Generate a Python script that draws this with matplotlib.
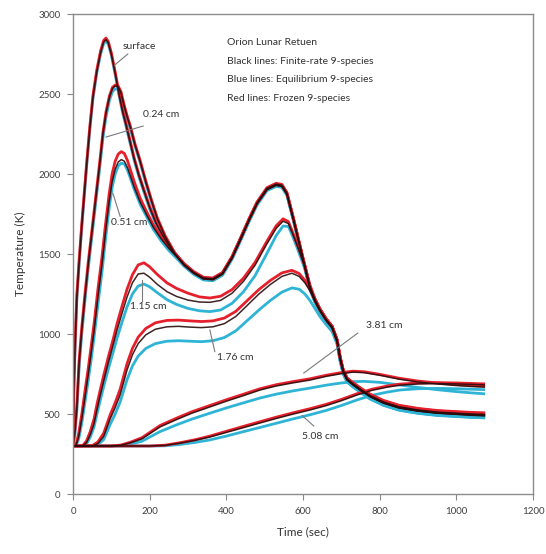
import matplotlib
matplotlib.use("Agg")
import matplotlib.pyplot as plt

plt.rcParams['font.family'] = ['Lato', 'DejaVu Sans']

# ---- data (time in s, temperature in K) ----
t_surf = [0, 2, 5, 10, 16, 23, 30, 36, 44, 52, 62, 72, 80, 86, 92, 100, 110, 120, 130, 138,
          150, 160, 172, 183, 200, 217, 240, 265,
          290, 315, 340, 365, 390, 415, 436, 460, 480, 506, 530, 545,
          558, 575, 592, 605, 618, 631, 644, 660, 676, 689, 697, 705, 715, 730, 750, 775, 810, 850, 900, 950,
          1000, 1040, 1075]
surf_black = [300, 640, 900, 1230, 1450, 1680, 1890, 2070, 2290, 2480, 2640, 2760, 2825, 2840, 2820, 2750, 2630, 2500, 2385, 2310,
              2190, 2090, 1990, 1910, 1790, 1690, 1590, 1500,
              1435, 1385, 1350, 1345, 1380, 1480, 1590, 1720, 1820, 1910, 1937, 1930, 1880, 1720, 1550, 1420, 1290, 1210, 1150, 1090,
              1044, 960, 850, 770, 720, 690, 655, 615, 575, 545, 525, 512, 505, 500, 497]
surf_red = [300, 650, 912, 1242, 1462, 1692, 1902, 2080, 2300, 2490, 2650, 2770, 2835, 2850, 2828, 2758, 2638, 2508, 2393, 2318,
            2198, 2097, 1997, 1917, 1797, 1697, 1597, 1506,
            1440, 1390, 1355, 1350, 1385, 1485, 1595, 1725, 1825, 1915, 1942, 1935, 1885, 1725, 1555, 1425, 1295, 1215, 1155, 1095,
            1049, 965, 855, 775, 725, 697, 663, 624, 585, 555, 535, 522, 515, 510, 507]
surf_blue = [300, 632, 890, 1218, 1438, 1668, 1878, 2060, 2280, 2470, 2630, 2750, 2815, 2830, 2812, 2742, 2622, 2492, 2377, 2302,
             2182, 2082, 1982, 1902, 1782, 1682, 1582, 1493,
             1429, 1379, 1344, 1339, 1374, 1474, 1584, 1714, 1814, 1904, 1931, 1924, 1874, 1714, 1544, 1414, 1284, 1204, 1144, 1084,
             1038, 952, 842, 762, 710, 678, 642, 600, 560, 530, 510, 497, 490, 485, 482]

t_024 = [0, 5, 10, 16, 23, 31, 40, 50, 60, 70, 78, 86, 95, 103, 110, 117, 125, 133, 141, 150,
         162, 175, 190, 205, 220, 240, 265,
         290, 315, 340, 365, 390, 415, 436, 460, 480, 506, 530, 545,
         558, 575, 592, 605, 618, 631, 644, 660, 676, 689, 697, 705, 715, 730, 750, 775, 810, 850, 900, 950,
         1000, 1040, 1075]
d024_black = [300, 390, 540, 820, 1030, 1231, 1440, 1650, 1860, 2070, 2250, 2380, 2480, 2535, 2550, 2548, 2510, 2430, 2360, 2290,
              2180, 2080, 1950, 1830, 1720, 1610, 1505,
              1432, 1382, 1347, 1342, 1377, 1477, 1587, 1716, 1815, 1905, 1932, 1925, 1876, 1717, 1548, 1418, 1288, 1208, 1148, 1088,
              1041, 957, 847, 767, 717, 687, 652, 612, 572, 542, 522, 509, 502, 497, 494]
d024_red = [300, 400, 555, 835, 1045, 1245, 1455, 1662, 1872, 2080, 2258, 2388, 2488, 2542, 2556, 2554, 2516, 2436, 2366, 2296,
            2186, 2086, 1956, 1836, 1726, 1616, 1510,
            1437, 1387, 1352, 1347, 1382, 1482, 1592, 1721, 1820, 1910, 1937, 1930, 1881, 1722, 1553, 1423, 1293, 1213, 1153, 1093,
            1046, 962, 852, 772, 722, 694, 660, 621, 582, 552, 532, 519, 512, 507, 504]
d024_blue = [300, 372, 520, 795, 1005, 1205, 1415, 1625, 1835, 2045, 2225, 2355, 2460, 2515, 2532, 2532, 2497, 2420, 2350, 2280,
             2172, 2072, 1942, 1822, 1712, 1602, 1498,
             1426, 1376, 1341, 1336, 1371, 1471, 1581, 1710, 1809, 1899, 1926, 1919, 1870, 1711, 1542, 1412, 1282, 1202, 1142, 1082,
             1035, 949, 839, 759, 707, 675, 639, 597, 557, 527, 507, 494, 487, 482, 479]

t_051 = [0, 8, 15, 23, 31, 40, 48, 55, 65, 76, 85, 94, 102, 110, 118, 126, 134, 142, 150, 160,
         175, 193, 210, 230, 250, 270,
         290, 315, 340, 365, 390, 415, 436, 460, 480, 506, 530, 545,
         558, 575, 592, 605, 618, 631, 644, 660, 676, 689, 697, 705, 715, 730, 750, 775, 810, 850, 900, 950,
         1000, 1040, 1075]
d051_black = [300, 305, 360, 470, 600, 750, 890, 1020, 1230, 1440, 1640, 1820, 1950, 2030, 2075, 2090, 2080, 2040, 1985, 1915,
              1825, 1740, 1665, 1595, 1535, 1485,
              1429, 1379, 1344, 1339, 1374, 1474, 1584, 1713, 1812, 1902, 1929, 1922, 1873, 1714, 1545, 1415, 1285, 1205, 1145, 1085,
              1038, 954, 844, 764, 714, 684, 649, 609, 569, 539, 519, 506, 499, 494, 491]
d051_red = [300, 310, 380, 500, 640, 790, 935, 1065, 1280, 1490, 1690, 1870, 2000, 2080, 2125, 2140, 2128, 2085, 2025, 1950,
            1850, 1760, 1680, 1608, 1545, 1492,
            1434, 1384, 1349, 1344, 1379, 1479, 1589, 1718, 1817, 1907, 1934, 1927, 1878, 1719, 1550, 1420, 1290, 1210, 1150, 1090,
            1043, 959, 849, 769, 719, 691, 657, 618, 579, 549, 529, 516, 509, 504, 501]
d051_blue = [300, 302, 345, 445, 570, 715, 850, 980, 1185, 1395, 1595, 1780, 1915, 2000, 2050, 2068, 2062, 2025, 1972, 1902,
             1812, 1728, 1652, 1582, 1522, 1474,
             1423, 1373, 1338, 1333, 1368, 1468, 1578, 1707, 1806, 1896, 1923, 1916, 1867, 1708, 1539, 1409, 1279, 1199, 1139, 1079,
             1032, 946, 836, 756, 704, 672, 636, 594, 554, 524, 504, 491, 484, 479, 476]

t_115 = [0, 25, 35, 45, 55, 62, 70, 81, 92, 104, 115, 128, 141, 155, 170, 185, 200, 220, 245, 270,
         300, 330, 357, 385, 415, 445, 475, 505, 530, 548, 562, 574, 590, 605, 618, 631, 644, 660, 676, 689,
         697, 705, 715, 730, 750, 775, 810, 850, 900, 950, 1000, 1040, 1075]
d115_black = [300, 300, 320, 370, 440, 520, 606, 715, 819, 925, 1025, 1130, 1231, 1320, 1375, 1380, 1355, 1310, 1265, 1235,
              1212, 1200, 1198, 1210, 1255, 1330, 1430, 1560, 1660, 1705, 1690, 1620, 1520, 1420, 1300, 1215, 1150, 1090, 1040, 955,
              845, 765, 715, 685, 650, 610, 570, 540, 520, 507, 500, 495, 492]
d115_red = [300, 302, 330, 390, 470, 555, 640, 750, 855, 960, 1065, 1175, 1280, 1370, 1432, 1445, 1420, 1372, 1320, 1285,
            1255, 1232, 1225, 1236, 1278, 1350, 1448, 1576, 1676, 1720, 1702, 1630, 1528, 1428, 1308, 1222, 1158, 1098, 1048, 963,
            853, 773, 723, 693, 658, 618, 578, 548, 528, 515, 508, 503, 500]
d115_blue = [300, 300, 312, 355, 420, 495, 575, 680, 780, 880, 975, 1075, 1170, 1250, 1300, 1312, 1295, 1258, 1215, 1185,
             1160, 1145, 1140, 1150, 1192, 1265, 1365, 1500, 1615, 1675, 1672, 1605, 1505, 1405, 1285, 1200, 1135, 1075, 1025, 942,
             832, 752, 702, 672, 638, 598, 558, 528, 508, 495, 488, 483, 480]

t_176 = [0, 50, 65, 80, 97, 110, 123, 141, 155, 170, 190, 215, 245, 275, 305, 335, 365, 395, 425, 455,
         485, 515, 545, 571, 590, 605, 618, 631, 644, 660, 676, 689, 697, 705, 715, 730, 750, 775, 810, 850,
         900, 950, 1000, 1040, 1075]
d176_black = [300, 300, 315, 360, 470, 540, 620, 775, 870, 940, 995, 1030, 1045, 1048, 1043, 1040, 1045, 1065, 1110, 1180,
              1250, 1310, 1360, 1380, 1360, 1320, 1270, 1210, 1150, 1088, 1038, 952, 842, 762, 712, 682, 648, 608, 568, 538,
              518, 505, 498, 492, 488]
d176_red = [300, 302, 325, 380, 495, 570, 655, 815, 910, 980, 1035, 1070, 1085, 1087, 1082, 1078, 1082, 1100, 1142, 1210,
            1278, 1335, 1382, 1398, 1378, 1335, 1282, 1220, 1158, 1096, 1046, 960, 850, 770, 720, 690, 656, 616, 576, 546,
            526, 513, 506, 500, 496]
d176_blue = [300, 300, 308, 340, 435, 500, 575, 715, 800, 862, 910, 940, 955, 958, 955, 952, 958, 978, 1020, 1085,
             1150, 1210, 1262, 1288, 1280, 1250, 1210, 1160, 1110, 1060, 1015, 935, 828, 748, 700, 670, 636, 596, 556, 526,
             506, 493, 486, 480, 476]

t_381 = [0, 100, 125, 150, 180, 227, 270, 310, 357, 400, 445, 488, 530, 575, 618, 660, 700, 731, 760, 800,
         850, 900, 950, 1000, 1040, 1075]
d381_black = [300, 300, 305, 320, 345, 419, 465, 505, 544, 580, 615, 650, 675, 695, 712, 735, 752, 762, 758, 742,
              718, 700, 688, 678, 672, 668]
d381_red = [300, 300, 306, 324, 352, 428, 474, 514, 553, 589, 624, 658, 683, 703, 720, 742, 759, 768, 764, 748,
            724, 706, 694, 684, 678, 674]
d381_blue = [300, 300, 302, 312, 330, 390, 432, 468, 505, 538, 570, 600, 624, 645, 662, 680, 694, 702, 704, 698,
             682, 666, 652, 640, 632, 626]

t_508 = [0, 200, 240, 280, 320, 357, 400, 445, 488, 530, 575, 618, 660, 700, 741, 780, 820, 853, 900, 950,
         1000, 1040, 1075]
d508_black = [300, 300, 304, 318, 336, 356, 385, 415, 444, 472, 500, 525, 552, 583, 619, 648, 668, 680, 688, 690,
              688, 685, 682]
d508_red = [300, 300, 305, 321, 340, 362, 392, 423, 452, 480, 508, 533, 560, 591, 627, 655, 675, 687, 694, 696,
            694, 691, 688]
d508_blue = [300, 300, 301, 310, 323, 338, 362, 390, 416, 442, 470, 495, 522, 553, 588, 617, 637, 650, 658, 660,
             658, 655, 652]

depth_labels = ["surface", "0.24 cm", "0.51 cm", "1.15 cm", "1.76 cm", "3.81 cm", "5.08 cm"]
notes = ["Orion Lunar Retuen", "Black lines: Finite-rate 9-species",
         "Blue lines: Equilibrium 9-species", "Red lines: Frozen 9-species"]

curves = [
    (t_surf, surf_black, surf_blue, surf_red),
    (t_024, d024_black, d024_blue, d024_red),
    (t_051, d051_black, d051_blue, d051_red),
    (t_115, d115_black, d115_blue, d115_red),
    (t_176, d176_black, d176_blue, d176_red),
    (t_381, d381_black, d381_blue, d381_red),
    (t_508, d508_black, d508_blue, d508_red),
]

fig = plt.figure(figsize=(5.46, 5.54), dpi=100)
ax = fig.add_axes([0.1337, 0.1083, 0.8425, 0.8664])

# blue under, red over, thin black on top
for t, blk, blu, red in curves:
    ax.plot(t, blu, color="#2fb4d6", lw=2.0, solid_capstyle="butt")
for t, blk, blu, red in curves:
    ax.plot(t, red, color="#e5202c", lw=2.0, solid_capstyle="butt")
for t, blk, blu, red in curves:
    ax.plot(t, blk, color="#2a0c0c", lw=1.1, alpha=0.9, solid_capstyle="butt")

# depth labels with leader lines
lab_pos = [(130, 2794), (183, 2370), (99, 1700), (149, 1169), (376, 856), (765, 1056), (597, 362)]
leaders = [((143, 2750), (108, 2680)), ((183, 2300), (86, 2231)), ((104, 1880), (123, 1735)),
           ((180, 1337), (180, 1205)), ((357, 1025), (370, 890)), ((743, 1006), (602, 756)),
           ((628, 425), (598, 490))]
for name, (x, y), (p0, p1) in zip(depth_labels, lab_pos, leaders):
    ax.text(x, y, name, fontsize=7.5, color="#333333", va="center", ha="left")
    ax.plot([p0[0], p1[0]], [p0[1], p1[1]], color="#7a7a7a", lw=0.8)

for i, line in enumerate(notes):
    ax.text(402, 2819 - i * 115, line, fontsize=7.5, color="#333333", va="center", ha="left")

ax.set_xlim(0, 1200)
ax.set_ylim(0, 3000)
ax.set_xticks(range(0, 1201, 200))
ax.set_yticks(range(0, 3001, 500))
ax.tick_params(direction="out", length=4, width=0.8, color="#888888",
               labelsize=7, labelcolor="#404040", pad=5)
for s in ax.spines.values():
    s.set_color("#8c8c8c")
    s.set_linewidth(1.0)

ax.set_xlabel("Time (sec)", fontsize=8.5, color="#333333", labelpad=8)
ax.set_ylabel("Temperature (K)", fontsize=8.5, color="#333333", labelpad=9)

fig.savefig("out.png", dpi=100)
